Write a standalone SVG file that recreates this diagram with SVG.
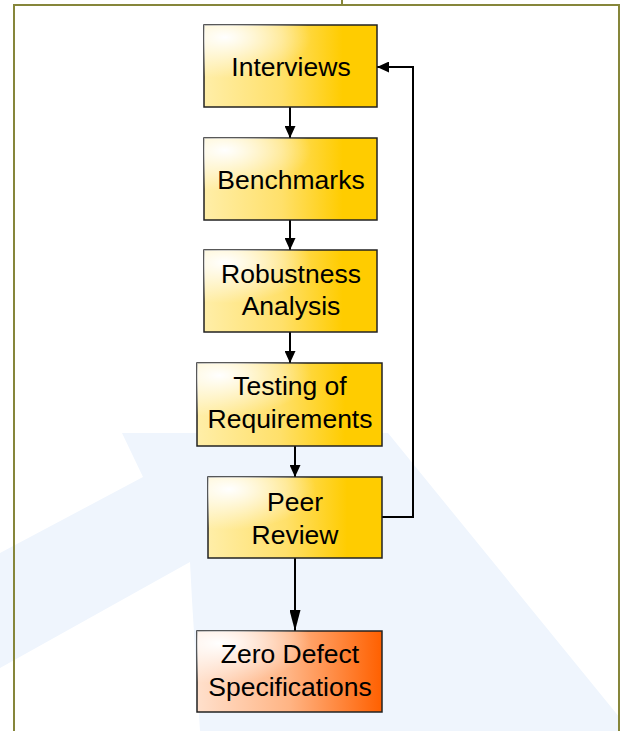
<svg xmlns="http://www.w3.org/2000/svg" width="623" height="731" viewBox="0 0 623 731">
<defs>
<linearGradient id="gy" x1="0" y1="0" x2="1" y2="0">
<stop offset="0" stop-color="#FFEEA8"/>
<stop offset="0.45" stop-color="#FFE06A"/>
<stop offset="0.8" stop-color="#FFCC00"/>
</linearGradient>
<linearGradient id="go" x1="0" y1="0" x2="1" y2="0">
<stop offset="0" stop-color="#FFE0CC"/>
<stop offset="0.5" stop-color="#FFB484"/>
<stop offset="1" stop-color="#FF6000"/>
</linearGradient>
<radialGradient id="hl" cx="0.12" cy="0.15" r="0.5" fx="0.12" fy="0.15">
<stop offset="0" stop-color="#FFFFFF" stop-opacity="1"/>
<stop offset="1" stop-color="#FFFFFF" stop-opacity="0"/>
</radialGradient>
<marker id="ah" viewBox="0 0 12 11" refX="12" refY="5.5" markerWidth="12" markerHeight="11" markerUnits="userSpaceOnUse" orient="auto">
<path d="M0,0 L12,5.5 L0,11 Z" fill="#000"/>
</marker>
<marker id="ahl" viewBox="0 0 21 11" refX="21" refY="5.5" markerWidth="21" markerHeight="11" markerUnits="userSpaceOnUse" orient="auto">
<path d="M0,0 L21,5.5 L0,11 Z" fill="#000"/>
</marker>
</defs>
<style>
.box{stroke:#222;stroke-width:1.5}
.y{fill:url(#gy)}
.o{fill:url(#go)}
.h{fill:url(#hl);stroke:none}
.t{font-family:"Liberation Sans",Arial,sans-serif;font-size:26.5px;fill:#000;text-anchor:middle}
.c{fill:none;stroke:#000;stroke-width:2}
</style>
<rect width="623" height="731" fill="#FFFFFF"/>
<g id="watermark" fill="#EFF5FD">
<path d="M122,433 L388,433 L620,718 L620,731 L200,731 L192,600 L190,562 L0,668 L0,553 L143,477 Z"/>
</g>
<g id="frame" fill="none" stroke="#86863A" stroke-width="2">
<path d="M14,731 L14,5 L619,5 L619,731"/>
<line x1="342" y1="0" x2="342" y2="4"/>
</g>
<g id="connectors">
<line class="c" x1="290" y1="107" x2="290" y2="138" marker-end="url(#ah)"/>
<line class="c" x1="290" y1="220" x2="290" y2="250" marker-end="url(#ah)"/>
<line class="c" x1="290" y1="332" x2="290" y2="363" marker-end="url(#ah)"/>
<line class="c" x1="295" y1="446" x2="295" y2="477" marker-end="url(#ah)"/>
<line class="c" x1="295" y1="558" x2="295" y2="631" marker-end="url(#ahl)"/>
<path class="c" d="M382,517 L413,517 L413,67 L377,67" marker-end="url(#ah)"/>
</g>
<g id="interviews">
<rect class="box y" x="204" y="25" width="173" height="82"/>
<rect class="h" x="204" y="25" width="173" height="82"/>
<text class="t" x="291" y="76">Interviews</text>
</g>
<g id="benchmarks">
<rect class="box y" x="204" y="138" width="173" height="82"/>
<rect class="h" x="204" y="138" width="173" height="82"/>
<text class="t" x="291" y="189">Benchmarks</text>
</g>
<g id="robustness">
<rect class="box y" x="204" y="250" width="173" height="82"/>
<rect class="h" x="204" y="250" width="173" height="82"/>
<text class="t" x="291" y="283">Robustness</text>
<text class="t" x="291" y="315">Analysis</text>
</g>
<g id="testing">
<rect class="box y" x="197" y="363" width="185" height="83"/>
<rect class="h" x="197" y="363" width="185" height="83"/>
<text class="t" x="290" y="395">Testing of</text>
<text class="t" x="290" y="428">Requirements</text>
</g>
<g id="peer">
<rect class="box y" x="208" y="477" width="174" height="81"/>
<rect class="h" x="208" y="477" width="174" height="81"/>
<text class="t" x="295" y="511">Peer</text>
<text class="t" x="295" y="544">Review</text>
</g>
<g id="zero">
<rect class="box o" x="197" y="631" width="185" height="81"/>
<rect class="h" x="197" y="631" width="185" height="81"/>
<text class="t" x="290" y="663">Zero Defect</text>
<text class="t" x="290" y="696">Specifications</text>
</g>
</svg>
